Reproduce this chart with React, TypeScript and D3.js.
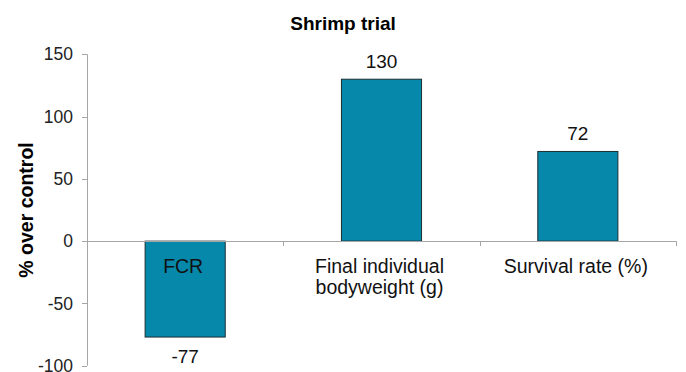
import React from "react";
import * as d3 from "d3";

const categories: string[][] = [["FCR"], ["Final individual", "bodyweight (g)"], ["Survival rate (%)"]];
const values: number[] = [-77, 130, 72];
const yTicks: number[] = [-100, -50, 0, 50, 100, 150];
const title = "Shrimp trial";
const yLabel = "% over control";

const W = 686;
const H = 372;
const FONT = "'Liberation Sans', Arial, sans-serif";

export default function App() {
  const left = 87;
  const right = 676;
  const y = d3.scaleLinear().domain([-100, 150]).range([365.7, 54.3]);
  const x = d3
    .scaleBand<number>()
    .domain(values.map((_, i) => i))
    .range([left, right])
    .paddingInner(0)
    .paddingOuter(0);
  const bw = x.bandwidth();
  const barW = bw * 0.408;
  const y0 = y(0);
  const axisColor = "#a6a6a6";

  return (
    <svg
      width={W}
      height={H}
      style={{ position: "absolute", left: 0, top: 0, background: "#fff" }}
      fontFamily={FONT}
    >
      <text x={343} y={30} textAnchor="middle" fontSize={19} fontWeight="bold" fill="#000">
        {title}
      </text>
      <text
        transform={`translate(33,210) rotate(-90)`}
        textAnchor="middle"
        fontSize={19.5}
        fontWeight="bold"
        fill="#000"
      >
        {yLabel}
      </text>

      {/* y axis */}
      <line x1={left + 0.5} x2={left + 0.5} y1={y(150)} y2={y(-100)} stroke={axisColor} />
      {yTicks.map((t) => (
        <g key={t}>
          <line x1={left - 5} x2={left} y1={Math.round(y(t)) + 0.5} y2={Math.round(y(t)) + 0.5} stroke={axisColor} />
          <text x={left - 14} y={y(t)} dy="0.35em" textAnchor="end" fontSize={17.5} fill="#222">
            {t}
          </text>
        </g>
      ))}

      {/* bars */}
      {values.map((v, i) => {
        const cx = (x(i) as number) + bw / 2;
        const top = y(Math.max(0, v));
        const bot = y(Math.min(0, v));
        return (
          <rect
            key={i}
            x={cx - barW / 2}
            y={top}
            width={barW}
            height={bot - top}
            fill="#0688aa"
            stroke="#1c2e33"
            strokeWidth={1}
          />
        );
      })}

      {/* zero line and category ticks */}
      <line x1={left} x2={right} y1={Math.round(y0) + 0.5} y2={Math.round(y0) + 0.5} stroke={axisColor} />
      {values.map((_, i) => {
        const xe = Math.round((x(i) as number) + bw) + 0.5;
        return <line key={i} x1={xe} x2={xe} y1={y0} y2={y0 + 5} stroke={axisColor} />;
      })}

      {/* value labels */}
      {values.map((v, i) => {
        const cx = (x(i) as number) + bw / 2;
        const ly = v >= 0 ? y(v) - 11 : y(v) + 26;
        return (
          <text key={i} x={cx} y={ly} textAnchor="middle" fontSize={19} fill="#111">
            {v}
          </text>
        );
      })}

      {/* category labels */}
      {categories.map((lines, i) => {
        const cx = (x(i) as number) + bw / 2 - 2;
        return (
          <text key={i} x={cx} y={y0 + 32} textAnchor="middle" fontSize={19.5} fill="#111">
            {lines.map((l, j) => (
              <tspan key={j} x={cx} dy={j === 0 ? 0 : 21}>
                {l}
              </tspan>
            ))}
          </text>
        );
      })}
    </svg>
  );
}
